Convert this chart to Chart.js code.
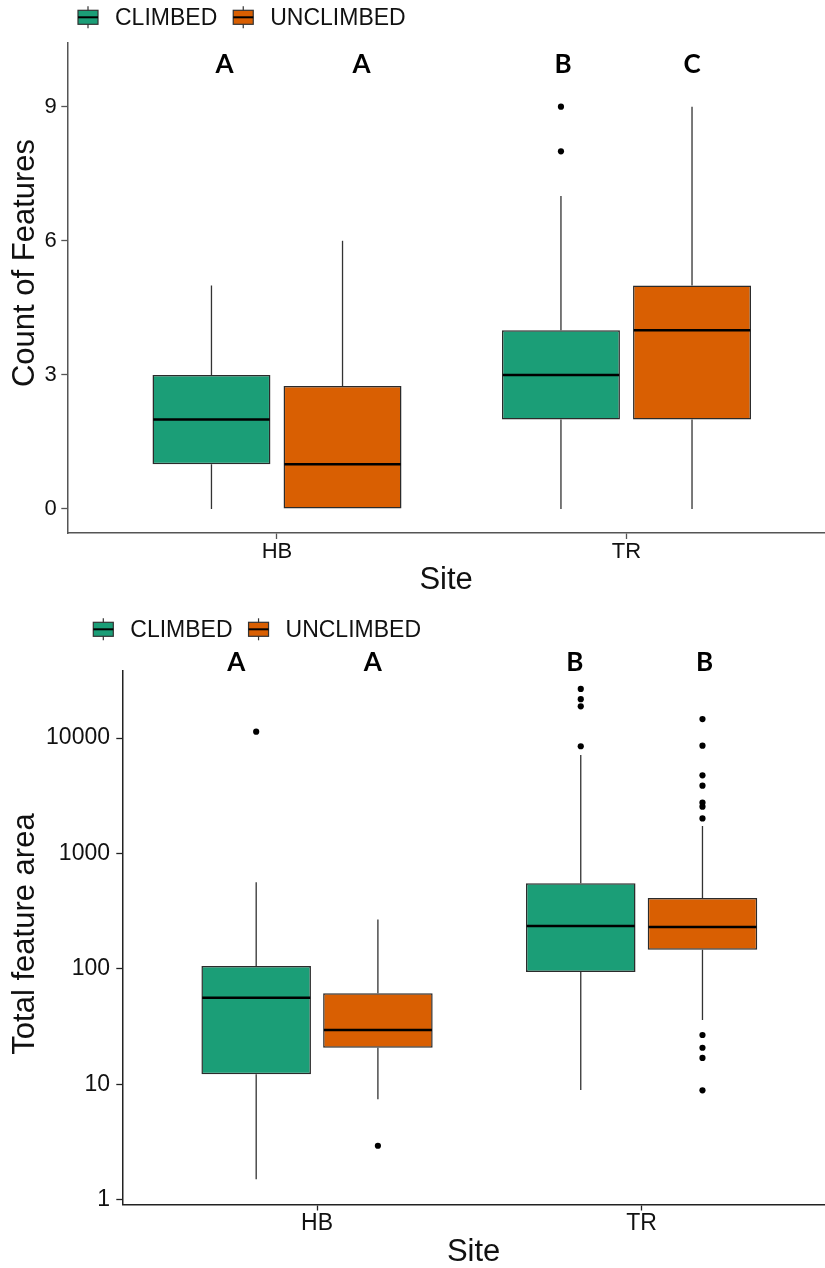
<!DOCTYPE html>
<html>
<head>
<meta charset="utf-8">
<script src="https://cdn.jsdelivr.net/npm/chart.js@4.4.1/dist/chart.umd.min.js"></script>
<style>
    html, body { margin: 0; padding: 0; background: #ffffff; }
    #wrap { position: relative; width: 825px; height: 1268px; overflow: hidden; }
    canvas { position: absolute; left: 0; }
    #countChart { top: 0; }
    #areaChart { top: 600px; }
</style>
</head>
<body>
<div id="wrap">
    <canvas id="countChart" width="825" height="600"></canvas>
    <canvas id="areaChart" width="825" height="668"></canvas>
</div>
<script>
const sites = ['HB', 'TR'];
const groups = ['CLIMBED', 'UNCLIMBED'];
const colors = ['#1B9E77', '#D95F02'];

// per site: [lower whisker, q1, median, q3, upper whisker]
const countClimbed = [[0, 1, 2, 3, 5], [0, 2, 3, 4, 7]];
const countUnclimbed = [[0, 0, 1, 2.75, 6], [0, 2, 4, 5, 9]];
const countClimbedOutliers = [[], [8, 9]];
const countUnclimbedOutliers = [[], []];
const countLetters = ['A', 'A', 'B', 'C'];
const countTicks = [0, 3, 6, 9];

const areaClimbed = [[1.5, 12.2, 56, 106, 562], [8.9, 94, 235, 551, 7120]];
const areaUnclimbed = [[7.4, 20.7, 29.5, 61.3, 268], [36, 146, 230, 411, 1730]];
const areaClimbedOutliers = [[11350], [8480, 18800, 21700, 26600]];
const areaUnclimbedOutliers = [[2.93], [8.85, 16.9, 20.7, 26.7, 2010, 2540, 2750, 3860, 4750, 8580, 14600]];
const areaLetters = ['A', 'A', 'B', 'B'];
const areaTicks = [1, 10, 100, 1000, 10000];

const FONT = '"Liberation Sans", Arial, sans-serif';
const TEXT = '#111111';

// whiskers, medians, outliers, legend keys and letter labels
const boxExtras = {
    id: 'boxExtras',
    beforeDatasetsDraw(chart) {
        const ctx = chart.ctx;
        const y = chart.scales.y;
        ctx.save();
        ctx.strokeStyle = '#333333';
        ctx.lineWidth = 1.3;
        chart.data.datasets.forEach((ds, di) => {
            chart.getDatasetMeta(di).data.forEach((bar, i) => {
                const s = ds.stats[i];
                ctx.beginPath();
                ctx.moveTo(bar.x, y.getPixelForValue(s[0]));
                ctx.lineTo(bar.x, y.getPixelForValue(s[1]));
                ctx.moveTo(bar.x, y.getPixelForValue(s[3]));
                ctx.lineTo(bar.x, y.getPixelForValue(s[4]));
                ctx.stroke();
            });
        });
        ctx.restore();
    },
    afterDatasetsDraw(chart) {
        const ctx = chart.ctx;
        const y = chart.scales.y;
        ctx.save();
        chart.data.datasets.forEach((ds, di) => {
            chart.getDatasetMeta(di).data.forEach((bar, i) => {
                const s = ds.stats[i];
                const half = bar.width / 2 - 0.75;
                const my = y.getPixelForValue(s[2]);
                ctx.strokeStyle = '#000000';
                ctx.lineWidth = 2.5;
                ctx.beginPath();
                ctx.moveTo(bar.x - half, my);
                ctx.lineTo(bar.x + half, my);
                ctx.stroke();

                ctx.fillStyle = '#000000';
                ds.outliers[i].forEach((v) => {
                    ctx.beginPath();
                    ctx.arc(bar.x, y.getPixelForValue(v), 3.1, 0, Math.PI * 2);
                    ctx.fill();
                });
            });
        });
        ctx.restore();
    },
    afterDraw(chart, args, opts) {
        const ctx = chart.ctx;
        const y = chart.scales.y;
        ctx.save();

        // legend
        let lx = opts.legendX;
        const ly = opts.legendY;
        ctx.font = `23px ${FONT}`;
        ctx.textBaseline = 'middle';
        ctx.textAlign = 'left';
        chart.data.datasets.forEach((ds) => {
            ctx.strokeStyle = '#333333';
            ctx.lineWidth = 1.2;
            ctx.beginPath();
            ctx.moveTo(lx + 10, ly - 11);
            ctx.lineTo(lx + 10, ly + 11);
            ctx.stroke();
            ctx.fillStyle = ds.backgroundColor;
            ctx.fillRect(lx, ly - 7, 20, 14);
            ctx.strokeRect(lx, ly - 7, 20, 14);
            ctx.lineWidth = 2;
            ctx.strokeStyle = '#000000';
            ctx.beginPath();
            ctx.moveTo(lx, ly);
            ctx.lineTo(lx + 20, ly);
            ctx.stroke();
            ctx.fillStyle = TEXT;
            ctx.fillText(ds.label, lx + 37, ly + 1);
            lx += 37 + ctx.measureText(ds.label).width + 16;
        });

        // significance letters
        ctx.font = `bold 26px Lato, ${FONT}`;
        ctx.textAlign = 'center';
        ctx.fillStyle = '#000000';
        const ly2 = y.getPixelForValue(opts.letterLevel);
        chart.data.datasets.forEach((ds, di) => {
            chart.getDatasetMeta(di).data.forEach((bar, i) => {
                const k = i * 2 + di;
                ctx.fillText(opts.letters[k], bar.x + opts.letterNudge[k], ly2);
            });
        });

        // y axis title
        ctx.font = `31px ${FONT}`;
        ctx.fillStyle = TEXT;
        ctx.translate(opts.yTitleX, opts.yTitleY);
        ctx.rotate(-Math.PI / 2);
        ctx.fillText(opts.yTitle, 0, 0);
        ctx.restore();
    },
};

function buildDatasets(summaries, outliers) {
    return groups.map((g, gi) => ({
        label: g,
        data: summaries[gi].map((s, i) => ({ x: i + 1, y: [s[1], s[3]] })),
        stats: summaries[gi],
        outliers: outliers[gi],
        backgroundColor: colors[gi],
        borderColor: '#2b2b2b',
        borderWidth: 1.5,
        borderSkipped: false,
        categoryPercentage: 0.75,
        barPercentage: 0.9,
    }));
}

function makeChart(canvasId, setup) {
    const canvas = document.getElementById(canvasId);
    const axisColor = setup.axisColor;

    new Chart(canvas, {
        type: 'bar',
        data: {
            datasets: buildDatasets(setup.summaries, setup.outliers),
        },
        options: {
            responsive: false,
            animation: false,
            devicePixelRatio: 1,
            layout: {
                padding: { top: setup.padTop, left: 0, right: 0, bottom: 0 },
            },
            plugins: {
                legend: { display: false },
                tooltip: { enabled: false },
                boxExtras: setup.extras,
            },
            scales: {
                x: {
                    type: 'linear',
                    min: 0.4,
                    max: setup.maxX,
                    offset: false,
                    grid: {
                        display: true,
                        drawOnChartArea: false,
                        drawTicks: true,
                        tickLength: 6,
                        tickColor: axisColor,
                        tickWidth: 1.3,
                        offset: false,
                    },
                    border: { display: true, color: axisColor, width: 1.5 },
                    afterBuildTicks: (scale) => {
                        scale.ticks = sites.map((s, i) => ({ value: i + 1 }));
                    },
                    afterFit: (scale) => {
                        scale.height = setup.xAxisHeight;
                    },
                    ticks: {
                        color: TEXT,
                        padding: setup.xTickPad,
                        maxRotation: 0,
                        autoSkip: false,
                        font: { family: FONT, size: setup.tickSize, lineHeight: 1 },
                        callback: (value) => sites[value - 1],
                    },
                    title: {
                        display: true,
                        text: 'Site',
                        color: TEXT,
                        font: { family: FONT, size: 31, lineHeight: 1 },
                        padding: { top: 0, bottom: setup.xTitlePad },
                    },
                },
                y: {
                    type: setup.yType,
                    min: setup.minY,
                    max: setup.maxY,
                    grid: {
                        display: true,
                        drawOnChartArea: false,
                        drawTicks: true,
                        tickLength: 6,
                        tickColor: axisColor,
                        tickWidth: 1.3,
                    },
                    border: { display: true, color: axisColor, width: 1.5 },
                    afterBuildTicks: (scale) => {
                        scale.ticks = setup.ticks.map((v) => ({ value: v }));
                    },
                    afterFit: (scale) => {
                        scale.width = setup.yAxisWidth;
                    },
                    ticks: {
                        color: TEXT,
                        padding: setup.yTickPad,
                        autoSkip: false,
                        font: { family: FONT, size: setup.tickSize },
                        callback: (value) => String(value),
                    },
                },
            },
        },
        plugins: [boxExtras],
    });
}

makeChart('countChart', {
    summaries: [countClimbed, countUnclimbed],
    outliers: [countClimbedOutliers, countUnclimbedOutliers],
    ticks: countTicks,
    yType: 'linear',
    minY: -0.537,
    maxY: 10.44,
    maxX: 2.568,
    padTop: 42.3,
    xAxisHeight: 67,
    yAxisWidth: 67.3,
    tickSize: 22,
    xTickPad: 2,
    yTickPad: 4.6,
    xTitlePad: 4,
    axisColor: '#555555',
    extras: {
        legendX: 78,
        legendY: 17.3,
        letters: countLetters,
        letterLevel: 9.93,
        letterNudge: [13, 19, 2, 0],
        yTitle: 'Count of Features',
        yTitleX: 25,
        yTitleY: 263,
    },
});

makeChart('areaChart', {
    summaries: [areaClimbed, areaUnclimbed],
    outliers: [areaClimbedOutliers, areaUnclimbedOutliers],
    ticks: areaTicks,
    yType: 'logarithmic',
    minY: 0.907,
    maxY: 38300,
    maxX: 2.565,
    padTop: 70.7,
    xAxisHeight: 63.5,
    yAxisWidth: 122.3,
    tickSize: 23,
    xTickPad: 1.3,
    yTickPad: 6.3,
    xTitlePad: 0,
    axisColor: '#222222',
    extras: {
        legendX: 93.3,
        legendY: 29.3,
        letters: areaLetters,
        letterLevel: 44700,
        letterNudge: [-20, -5, -6, 2],
        yTitle: 'Total feature area',
        yTitleX: 25,
        yTitleY: 334,
    },
});
</script>
</body>
</html>
